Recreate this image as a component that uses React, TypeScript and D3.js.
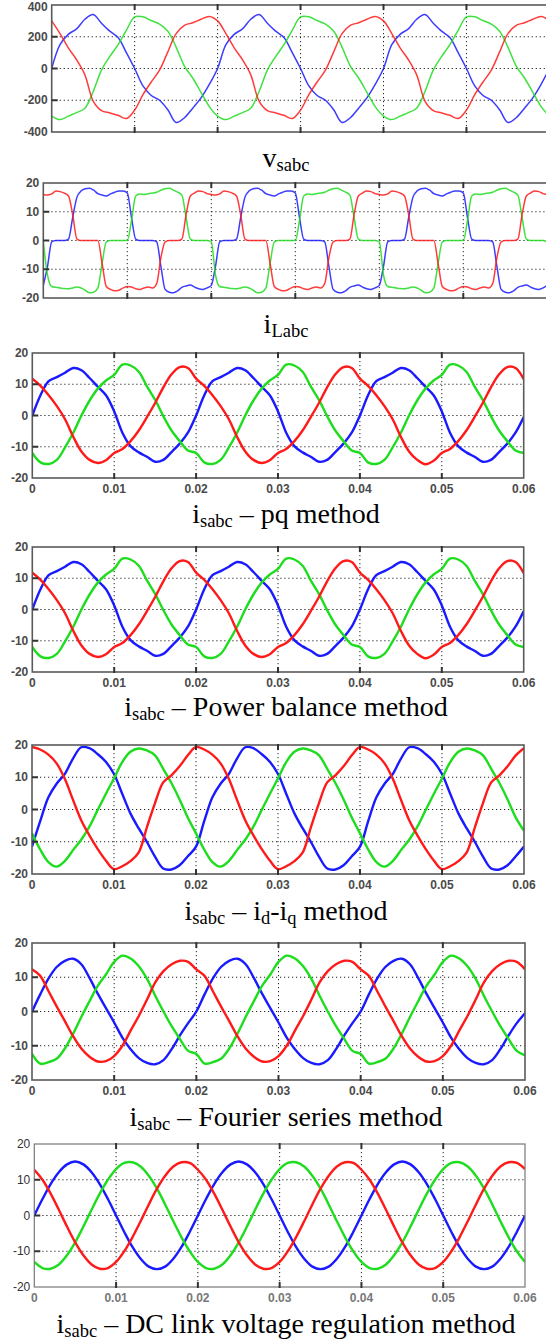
import React from "react";
import * as d3 from "d3";

// trace sample spacing (s)
const STEP_1MS = 0.001;
const STEP_HALF_MS = 0.0005;

const xTickValues = [0, 0.01, 0.02, 0.03, 0.04, 0.05, 0.06];
const xTickLabels = ["0", "0.01", "0.02", "0.03", "0.04", "0.05", "0.06"];
const vTicks = [-400, -200, 0, 200, 400];
const iTicks = [-20, -10, 0, 10, 20];

// vsabc, 1 ms samples
const vsRed = [
  300, 220, 130, 55, -40, -205, -265, -280, -295, -315, -262, -165, -85, -10, 105, 220, 272, 288, 310, 328,
  300, 220, 130, 55, -40, -205, -265, -280, -295, -315, -262, -165, -85, -10, 105, 220, 272, 288, 310, 328,
  300, 220, 130, 55, -40, -205, -265, -280, -295, -315, -262, -165, -85, -10, 105, 220, 272, 288, 310, 328,
  300,
];
const vsGreen = [
  -300, -322, -300, -278, -250, -145, -10, 75, 150, 240, 325, 326, 302, 280, 235, 135, 15, -60, -150, -240,
  -300, -322, -300, -278, -250, -145, -10, 75, 150, 240, 325, 326, 302, 280, 235, 135, 15, -60, -150, -240,
  -300, -322, -300, -278, -250, -145, -10, 75, 150, 240, 325, 326, 302, 280, 235, 135, 15, -60, -150, -240,
  -300,
];
const vsBlue = [
  0, 150, 215, 250, 310, 340, 285, 235, 195, 100, 0, -110, -170, -200, -260, -340, -310, -250, -185, -100,
  0, 150, 215, 250, 310, 340, 285, 235, 195, 100, 0, -110, -170, -200, -260, -340, -310, -250, -185, -100,
  0, 150, 215, 250, 310, 340, 285, 235, 195, 100, 0, -110, -170, -200, -260, -340, -310, -250, -185, -100,
  0,
];

// iLabc, 0.5 ms samples
const iLRed = [
  16, 15.8, 16.2, 17.2, 17, 16.5, 15.5, 9, 0.5, 0, 0, 0, 0, 0, -8, -16, -17, -17.5, -17.3, -16.5,
  -16, -16.2, -16.8, -17, -16.5, -16.2, -16.5, -15, -6, -0.5, 0, 0, 0, 0.5, 9, 15.5, 16.5, 17.2, 17, 16.3,
  16, 15.8, 16.2, 17.2, 17, 16.5, 15.5, 9, 0.5, 0, 0, 0, 0, 0, -8, -16, -17, -17.5, -17.3, -16.5,
  -16, -16.2, -16.8, -17, -16.5, -16.2, -16.5, -15, -6, -0.5, 0, 0, 0, 0.5, 9, 15.5, 16.5, 17.2, 17, 16.3,
  16, 15.8, 16.2, 17.2, 17, 16.5, 15.5, 9, 0.5, 0, 0, 0, 0, 0, -8, -16, -17, -17.5, -17.3, -16.5,
  -16, -16.2, -16.8, -17, -16.5, -16.2, -16.5, -15, -6, -0.5, 0, 0, 0, 0.5, 9, 15.5, 16.5, 17.2, 17, 16.3,
  16,
];
const iLGreen = [
  -0.5, -12, -16, -16.3, -16.5, -16.7, -16.8, -16.5, -16.2, -16.5, -17.3, -18.2, -18, -16.5, -8, -0.5, 0, 0, 0, 0,
  0, 7, 15.5, 16.2, 16, 16.3, 16.5, 16.8, 17.5, 18, 18.2, 17.5, 16.8, 15.8, 8, 0.5, 0, 0, 0, 0,
  -0.5, -12, -16, -16.3, -16.5, -16.7, -16.8, -16.5, -16.2, -16.5, -17.3, -18.2, -18, -16.5, -8, -0.5, 0, 0, 0, 0,
  0, 7, 15.5, 16.2, 16, 16.3, 16.5, 16.8, 17.5, 18, 18.2, 17.5, 16.8, 15.8, 8, 0.5, 0, 0, 0, 0,
  -0.5, -12, -16, -16.3, -16.5, -16.7, -16.8, -16.5, -16.2, -16.5, -17.3, -18.2, -18, -16.5, -8, -0.5, 0, 0, 0, 0,
  0, 7, 15.5, 16.2, 16, 16.3, 16.5, 16.8, 17.5, 18, 18.2, 17.5, 16.8, 15.8, 8, 0.5, 0, 0, 0, 0,
  -0.5,
];
const iLBlue = [
  -15.6, -9, -0.5, 0, 0, 0, 0.5, 8, 15, 17.2, 18, 18.2, 17.5, 16.3, 15.8, 15.5, 16.2, 16.8, 17.2, 17.2,
  16.5, 8, 0.5, 0, 0, 0, 0, -0.5, -9, -17, -18, -18.2, -17.5, -16.3, -15.8, -15.5, -16.2, -16.8, -17, -16.5,
  -15.6, -9, -0.5, 0, 0, 0, 0.5, 8, 15, 17.2, 18, 18.2, 17.5, 16.3, 15.8, 15.5, 16.2, 16.8, 17.2, 17.2,
  16.5, 8, 0.5, 0, 0, 0, 0, -0.5, -9, -17, -18, -18.2, -17.5, -16.3, -15.8, -15.5, -16.2, -16.8, -17, -16.5,
  -15.6, -9, -0.5, 0, 0, 0, 0.5, 8, 15, 17.2, 18, 18.2, 17.5, 16.3, 15.8, 15.5, 16.2, 16.8, 17.2, 17.2,
  16.5, 8, 0.5, 0, 0, 0, 0, -0.5, -9, -17, -18, -18.2, -17.5, -16.3, -15.8, -15.5, -16.2, -16.8, -17, -16.5,
  -15.6,
];

// isabc pq method (power balance looks the same), 1 ms samples
const pqRed = [
  11.8, 9.5, 6.5, 3, -1.2, -6.8, -11.5, -14.2, -15.2, -14.3, -12, -10.7, -8.2, -4.8, -0.5, 4, 9, 13.2, 15.5, 15.2,
  11.8, 9.5, 6.5, 3, -1.2, -6.8, -11.5, -14.2, -15.2, -14.3, -12, -10.7, -8.2, -4.8, -0.5, 4, 9, 13.2, 15.5, 15.2,
  11.8, 9.5, 6.5, 3, -1.2, -6.8, -11.5, -14.2, -15.6, -14.5, -12, -10.7, -8.2, -4.8, -0.5, 4, 9, 13.2, 15.5, 15.2,
  11.6,
];
const pqGreen = [
  -12, -15, -15.5, -14.2, -10.2, -5.5, 0, 4.8, 8.6, 11.2, 13, 16.3, 16, 14, 9.3, 5, -0.2, -4.8, -8.2, -11.2,
  -12, -15, -15.5, -14.2, -10.2, -5.5, 0, 4.8, 8.6, 11.2, 13, 16.3, 16, 14, 9.3, 5, -0.2, -4.8, -8.2, -11.2,
  -12, -15, -15.5, -14.2, -10.2, -5.5, 0, 4.8, 8.6, 11.2, 13, 16.3, 16, 14, 9.3, 5, -0.2, -4.8, -8.2, -11.2,
  -12,
];
const pqBlue = [
  0, 6.5, 11, 12.3, 13.7, 15.2, 14.5, 12, 9.2, 6.5, 1.3, -5.5, -9.8, -11.8, -13.2, -14.8, -14.2, -11.7, -9, -5.5,
  0, 6.5, 11, 12.3, 13.7, 15.2, 14.5, 12, 9.2, 6.5, 1.3, -5.5, -9.8, -11.8, -13.2, -14.8, -14.2, -11.7, -9, -5.5,
  0, 6.5, 11, 12.3, 13.7, 15.2, 14.5, 12, 9.2, 6.5, 1.3, -5.5, -9.8, -11.8, -13.2, -14.8, -14.2, -11.7, -9, -5.5,
  -0.5,
];
const pbRed = pqRed;
const pbGreen = pqGreen;
const pbBlue = pqBlue;

// isabc id-iq method
const dqRed = [
  19.4, 18.6, 17, 14.3, 9.5, 3, -3.3, -8, -12.2, -15.8, -18.5, -17.6, -16, -13.4, -5.6, 2, 8.4, 10.6, 13.4, 16.8,
  19.4, 18.6, 17, 14.3, 9.5, 3, -3.3, -8, -12.2, -15.8, -18.5, -17.6, -16, -13.4, -5.6, 2, 8.4, 10.6, 13.4, 16.8,
  19.4, 18.6, 17, 14.3, 9.5, 3, -3.3, -8, -12.2, -15.8, -18.5, -17.6, -16, -13.4, -5.6, 2, 8.4, 10.6, 13.4, 16.8,
  19,
];
const dqGreen = [
  -7.4, -12.4, -16.3, -17.7, -16, -12.6, -9.4, -5.3, -0.2, 4.8, 9.6, 14.7, 17.9, 18.9, 18.3, 16.8, 12.6, 8.2, 3.1, -2.5,
  -7.4, -12.4, -16.3, -17.7, -16, -12.6, -9.4, -5.3, -0.2, 4.8, 9.6, 14.7, 17.9, 18.9, 18.3, 16.8, 12.6, 8.2, 3.1, -2.5,
  -7.4, -12.4, -16.3, -17.7, -16, -12.6, -9.4, -5.3, -0.2, 4.8, 9.6, 14.7, 17.9, 18.9, 18.3, 16.8, 12.6, 8.2, 3.1, -2.5,
  -6.6,
];
const dqBlue = [
  -11.5, -3.6, 3.8, 8, 11, 15.8, 19.3, 19, 17.2, 14.8, 11, 4.9, -1.2, -5.8, -10, -14.6, -18.3, -18.6, -17.3, -14.5,
  -11.5, -3.6, 3.8, 8, 11, 15.8, 19.3, 19, 17.2, 14.8, 11, 4.9, -1.2, -5.8, -10, -14.6, -18.3, -18.6, -17.3, -14.5,
  -11.5, -3.6, 3.8, 8, 11, 15.8, 19.3, 19, 17.2, 14.8, 11, 4.9, -1.2, -5.8, -10, -14.6, -18.3, -18.6, -17.3, -14.5,
  -11.5,
];

// isabc Fourier series method
const fsRed = [
  12.3, 10.4, 6, 1.5, -2.8, -7.2, -10.8, -13.2, -14.6, -14.5, -13, -10, -5.6, -1.3, 3.5, 8.5, 11.8, 13.8, 14.8, 14.5,
  12.3, 10.4, 6, 1.5, -2.8, -7.2, -10.8, -13.2, -14.6, -14.5, -13, -10, -5.6, -1.3, 3.5, 8.5, 11.8, 13.8, 14.8, 14.5,
  12.3, 10.4, 6, 1.5, -2.8, -7.2, -10.8, -13.2, -14.6, -14.5, -13, -10, -5.6, -1.3, 3.5, 8.5, 11.8, 13.8, 14.8, 14.5,
  12.3,
];
const fsGreen = [
  -12.4, -15.2, -14.8, -13.8, -10.8, -6.5, -1.6, 3, 7.5, 10.8, 14.5, 16.3, 15.5, 13.2, 9.5, 4.6, 0, -4.3, -8, -11.5,
  -12.4, -15.2, -14.8, -13.8, -10.8, -6.5, -1.6, 3, 7.5, 10.8, 14.5, 16.3, 15.5, 13.2, 9.5, 4.6, 0, -4.3, -8, -11.5,
  -12.4, -15.2, -14.8, -13.8, -10.8, -6.5, -1.6, 3, 7.5, 10.8, 14.5, 16.3, 15.5, 13.2, 9.5, 4.6, 0, -4.3, -8, -11.5,
  -12.8,
];
const fsBlue = [
  0, 5, 9.6, 13, 14.8, 15.4, 13.8, 9.8, 5.2, 1, -3.2, -7.6, -11, -13.6, -15, -15.4, -14.2, -11, -7, -3.4,
  0, 5, 9.6, 13, 14.8, 15.4, 13.8, 9.8, 5.2, 1, -3.2, -7.6, -11, -13.6, -15, -15.4, -14.2, -11, -7, -3.4,
  0, 5, 9.6, 13, 14.8, 15.4, 13.8, 9.8, 5.2, 1, -3.2, -7.6, -11, -13.6, -15, -15.4, -14.2, -11, -7, -3.4,
  -0.5,
];

// isabc DC link voltage regulation method
const dcRed = [
  12.8, 10, 6.1, 1.6, -3.1, -7.5, -11.1, -13.7, -14.9, -14.7, -13, -10, -6.1, -1.6, 3.1, 7.5, 11.1, 13.7, 14.9, 14.7,
  12.8, 10, 6.1, 1.6, -3.1, -7.5, -11.1, -13.7, -14.9, -14.7, -13, -10, -6.1, -1.6, 3.1, 7.5, 11.1, 13.7, 14.9, 14.7,
  12.8, 10, 6.1, 1.6, -3.1, -7.5, -11.1, -13.7, -14.9, -14.7, -13, -10, -6.1, -1.6, 3.1, 7.5, 11.1, 13.7, 14.9, 14.7,
  13,
];
const dcGreen = [
  -13, -14.7, -14.9, -13.7, -11.1, -7.5, -3.1, 1.6, 6.1, 10, 13, 14.7, 14.9, 13.7, 11.1, 7.5, 3.1, -1.6, -6.1, -10,
  -13, -14.7, -14.9, -13.7, -11.1, -7.5, -3.1, 1.6, 6.1, 10, 13, 14.7, 14.9, 13.7, 11.1, 7.5, 3.1, -1.6, -6.1, -10,
  -13, -14.7, -14.9, -13.7, -11.1, -7.5, -3.1, 1.6, 6.1, 10, 13, 14.7, 14.9, 13.7, 11.1, 7.5, 3.1, -1.6, -6.1, -10,
  -13,
];
const dcBlue = [
  0, 4.6, 8.8, 12.1, 14.3, 15.1, 14.3, 12.1, 8.8, 4.6, 0, -4.6, -8.8, -12.1, -14.3, -15, -14.3, -12.1, -8.8, -4.6,
  0, 4.6, 8.8, 12.1, 14.3, 15.1, 14.3, 12.1, 8.8, 4.6, 0, -4.6, -8.8, -12.1, -14.3, -15, -14.3, -12.1, -8.8, -4.6,
  0, 4.6, 8.8, 12.1, 14.3, 15.1, 14.3, 12.1, 8.8, 4.6, 0, -4.6, -8.8, -12.1, -14.3, -15, -14.3, -12.1, -8.8, -4.6,
  0,
];

const RED = "#ff1a1a";
const GREEN = "#1edc1e";
const BLUE = "#1a1aff";
const SERIF = "'Liberation Serif', 'Times New Roman', serif";
const SANS = "'Liberation Sans', Arial, sans-serif";

// caption pieces: [text, isSubscript]
type Seg = [string, boolean];

type PanelProps = {
  id: string;
  left: number;
  right: number;
  top: number;
  bottom: number;
  yTicks: number[];
  red: number[];
  green: number[];
  blue: number[];
  step: number;
  xLabels: boolean;
  thin?: boolean;
  sharp?: boolean;
  light?: boolean;
  caption: Seg[];
  captionY: number;
};

function Caption({ segs, y }: { segs: Seg[]; y: number }) {
  let shifted = false;
  return (
    <text x={286} y={y} textAnchor="middle" fontFamily={SERIF} fontSize={28} fill="#000">
      {segs.map(([t, sub], i) => {
        let dy = 0;
        if (sub && !shifted) dy = 4;
        if (!sub && shifted) dy = -4;
        shifted = sub;
        return (
          <tspan key={i} dy={dy} fontSize={sub ? 18.5 : 28}>
            {t}
          </tspan>
        );
      })}
    </text>
  );
}

function Panel(p: PanelProps) {
  const yMax = d3.max(p.yTicks) as number;
  const x = d3.scaleLinear().domain([0, 0.06]).range([p.left, p.right]);
  const y = d3.scaleLinear().domain([-yMax, yMax]).range([p.bottom, p.top]);
  const line = d3
    .line<number>()
    .x((_, i) => x(i * p.step))
    .y((d) => y(d))
    .curve(p.sharp ? d3.curveMonotoneX : d3.curveCatmullRom.alpha(0.5));

  const clipId = `clip-${p.id}`;
  const w = p.right - p.left;
  const h = p.bottom - p.top;
  const labelFill = p.light ? "#333" : "#4a4a4a";

  return (
    <g>
      <defs>
        <clipPath id={clipId}>
          <rect x={p.left} y={p.top} width={w} height={h} />
        </clipPath>
      </defs>
      <rect x={p.left} y={p.top} width={w} height={h} fill="#fff" />

      {/* dotted grid */}
      <g stroke="#222" strokeWidth={1} strokeDasharray="1.2,2.8">
        {xTickValues.slice(1, -1).map((t) => (
          <line key={t} x1={x(t)} x2={x(t)} y1={p.top} y2={p.bottom} />
        ))}
        {p.yTicks.slice(1, -1).map((v) => (
          <line key={v} x1={p.left} x2={p.right} y1={y(v)} y2={y(v)} />
        ))}
      </g>

      <g clipPath={`url(#${clipId})`} fill="none" strokeLinejoin="round">
        {[
          { d: p.blue, c: BLUE },
          { d: p.green, c: GREEN },
          { d: p.red, c: RED },
        ].map((s) => (
          <path
            key={s.c}
            d={line(s.d) || ""}
            stroke={s.c}
            strokeWidth={p.thin ? 1.5 : 2.4}
            strokeOpacity={p.thin ? 0.85 : 1}
          />
        ))}
      </g>

      <rect
        x={p.left}
        y={p.top}
        width={w}
        height={h}
        fill="none"
        stroke={p.light ? "#777" : "#5a5a5a"}
        strokeWidth={p.light ? 1.2 : 1.6}
      />

      {/* tick marks */}
      <g stroke="#333" strokeWidth={2}>
        {p.yTicks.slice(1, -1).map((v) => (
          <line key={v} x1={p.left} x2={p.left + 6} y1={y(v)} y2={y(v)} />
        ))}
        {xTickValues.slice(1, -1).map((t) => (
          <g key={t}>
            <line x1={x(t)} x2={x(t)} y1={p.top - 1} y2={p.top + 5} />
            <line x1={x(t)} x2={x(t)} y1={p.bottom - 5} y2={p.bottom + 1} />
          </g>
        ))}
      </g>

      <g
        fontFamily={SANS}
        fontSize={12}
        fontWeight={p.light ? "normal" : "bold"}
        fill={labelFill}
        textAnchor="end"
      >
        {p.yTicks.map((v) => (
          <text key={v} x={p.left - 4} y={Math.max(y(v), 7)} dy="0.35em">
            {v}
          </text>
        ))}
      </g>

      {p.xLabels && (
        <g
          fontFamily={SANS}
          fontSize={12}
          fontWeight="bold"
          fill={p.light ? "#777" : "#4a4a4a"}
          textAnchor="middle"
        >
          {xTickValues.map((t, i) => (
            <text key={t} x={x(t)} y={p.bottom + 11} dy="0.35em">
              {xTickLabels[i]}
            </text>
          ))}
        </g>
      )}

      <Caption segs={p.caption} y={p.captionY} />
    </g>
  );
}

const isabc = (rest: string): Seg[] => [
  ["i", false],
  ["sabc", true],
  [rest, false],
];

export default function App() {
  const panels: PanelProps[] = [
    {
      id: "vs", left: 51.7, right: 549.4, top: 5, bottom: 132, yTicks: vTicks,
      red: vsRed, green: vsGreen, blue: vsBlue, step: STEP_1MS, xLabels: false, thin: true,
      caption: [["v", false], ["sabc", true]], captionY: 167,
    },
    {
      id: "il", left: 43.3, right: 547.3, top: 183, bottom: 298, yTicks: iTicks,
      red: iLRed, green: iLGreen, blue: iLBlue, step: STEP_HALF_MS, xLabels: false, thin: true, sharp: true,
      caption: [["i", false], ["Labc", true]], captionY: 333,
    },
    {
      id: "pq", left: 32.3, right: 523.7, top: 353, bottom: 478, yTicks: iTicks,
      red: pqRed, green: pqGreen, blue: pqBlue, step: STEP_1MS, xLabels: true,
      caption: isabc(" \u2013 pq method"), captionY: 523,
    },
    {
      id: "pb", left: 32.3, right: 523.7, top: 547, bottom: 672, yTicks: iTicks,
      red: pbRed, green: pbGreen, blue: pbBlue, step: STEP_1MS, xLabels: true,
      caption: isabc(" \u2013 Power balance method"), captionY: 716,
    },
    {
      id: "dq", left: 32, right: 524, top: 745, bottom: 874, yTicks: iTicks,
      red: dqRed, green: dqGreen, blue: dqBlue, step: STEP_1MS, xLabels: true,
      caption: [
        ["i", false], ["sabc", true], [" \u2013 i", false], ["d", true],
        ["-i", false], ["q", true], [" method", false],
      ],
      captionY: 920,
    },
    {
      id: "fs", left: 32, right: 525, top: 943, bottom: 1080, yTicks: iTicks,
      red: fsRed, green: fsGreen, blue: fsBlue, step: STEP_1MS, xLabels: true,
      caption: isabc(" \u2013 Fourier series method"), captionY: 1126,
    },
    {
      id: "dc", left: 34.3, right: 525, top: 1144, bottom: 1287, yTicks: iTicks,
      red: dcRed, green: dcGreen, blue: dcBlue, step: STEP_1MS, xLabels: true, light: true,
      caption: isabc(" \u2013 DC link voltage regulation method"), captionY: 1333,
    },
  ];

  return (
    <svg
      width={546}
      height={1343}
      style={{ position: "absolute", left: 0, top: 0, background: "#fff" }}
    >
      <rect width={546} height={1343} fill="#fff" />
      {panels.map((p) => (
        <Panel key={p.id} {...p} />
      ))}
    </svg>
  );
}
